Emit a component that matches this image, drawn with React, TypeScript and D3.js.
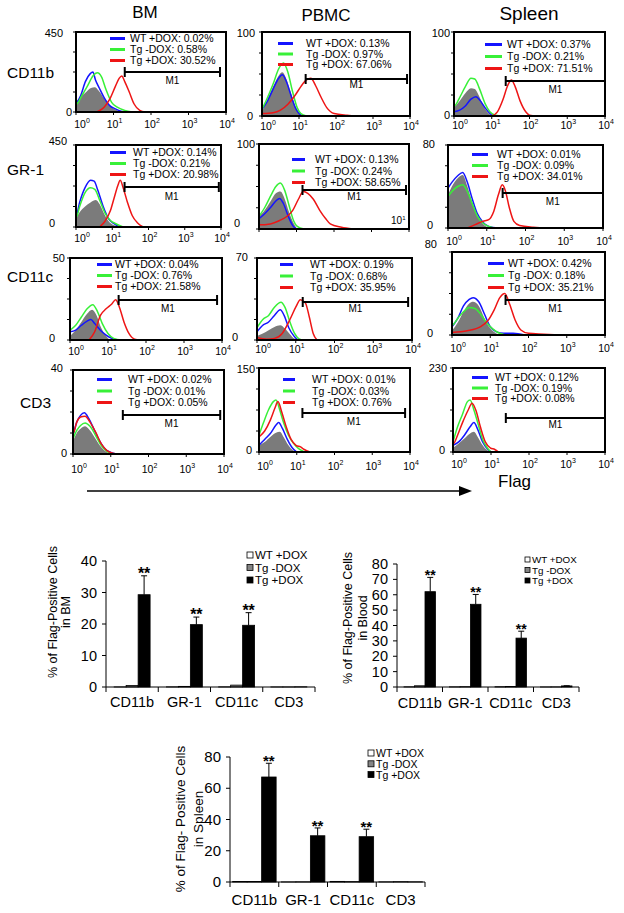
import React from 'react'
import * as d3 from 'd3'

type Pt = [number, number]

const FONT = '"Liberation Sans", Arial, Helvetica, sans-serif'

// ---- flow histogram panels ----
const columns = ['BM', 'PBMC', 'Spleen']
const markers = ['CD11b', 'GR-1', 'CD11c', 'CD3']
const legendNames = ['WT +DOX', 'Tg -DOX', 'Tg +DOX']
const decades = [0, 1, 2, 3, 4]

// y axis max label, row by row (BM, PBMC, Spleen)
const yMaxLabels = ['450', '100', '100', '450', '100', '80', '50', '70', '80', '40', '150', '230']

// % inside M1 for WT +DOX, Tg -DOX, Tg +DOX
const gatePct = [
  ['0.02', '0.58', '30.52'], ['0.13', '0.97', '67.06'], ['0.37', '0.21', '71.51'],
  ['0.14', '0.21', '20.98'], ['0.13', '0.24', '58.65'], ['0.01', '0.09', '34.01'],
  ['0.04', '0.76', '21.58'], ['0.19', '0.68', '35.95'], ['0.42', '0.18', '35.21'],
  ['0.02', '0.01', '0.05'], ['0.01', '0.03', '0.76'], ['0.12', '0.19', '0.08'],
]

// M1 gate, in decades (log10 of Flag)
const gateRange: Pt[] = [
  [1.3, 3.84], [1.18, 3.92], [1.37, 4.0],
  [1.34, 3.94], [1.16, 3.92], [1.41, 4.0],
  [1.28, 3.87], [1.18, 3.9], [1.4, 4.0],
  [1.32, 3.9], [1.15, 3.87], [1.39, 4.0],
]

// traces: [decade, fraction of y max]; order gray, blue, green, red
const histBmCd11b: Pt[][] = [
  [[0, 0.12], [0.1, 0.18], [0.25, 0.24], [0.4, 0.3], [0.5, 0.31], [0.6, 0.27], [0.75, 0.17], [0.9, 0.08], [1.05, 0.03], [1.2, 0]],
  [[0, 0.5], [0.01, 0.12], [0.12, 0.2], [0.25, 0.38], [0.38, 0.48], [0.45, 0.5], [0.52, 0.4], [0.62, 0.3], [0.75, 0.18], [0.9, 0.08], [1.05, 0.04], [1.2, 0.01], [1.35, 0]],
  [[0, 0.5], [0.01, 0.1], [0.15, 0.2], [0.3, 0.32], [0.45, 0.45], [0.57, 0.49], [0.68, 0.44], [0.8, 0.28], [0.95, 0.12], [1.1, 0.06], [1.3, 0.02], [1.5, 0]],
  [[0.55, 0], [0.75, 0.06], [0.9, 0.16], [1.05, 0.32], [1.15, 0.42], [1.22, 0.45], [1.3, 0.38], [1.42, 0.25], [1.55, 0.1], [1.7, 0.02], [1.85, 0]],
]
const histPbmcCd11b: Pt[][] = [
  [[0, 0.05], [0.15, 0.2], [0.3, 0.35], [0.45, 0.48], [0.55, 0.52], [0.65, 0.45], [0.78, 0.28], [0.9, 0.12], [1.0, 0.04], [1.1, 0]],
  [[0, 0.08], [0.15, 0.18], [0.3, 0.32], [0.45, 0.45], [0.55, 0.49], [0.65, 0.42], [0.78, 0.25], [0.9, 0.1], [1.0, 0.03], [1.1, 0]],
  [[0, 0.08], [0.15, 0.22], [0.3, 0.38], [0.45, 0.56], [0.58, 0.63], [0.7, 0.52], [0.82, 0.3], [0.95, 0.1], [1.05, 0.03], [1.2, 0]],
  [[0, 0.03], [0.3, 0.04], [0.5, 0.07], [0.7, 0.14], [0.9, 0.25], [1.05, 0.35], [1.2, 0.43], [1.32, 0.45], [1.45, 0.36], [1.6, 0.22], [1.75, 0.1], [1.95, 0.03], [2.3, 0.01], [2.6, 0]],
]
const histSplCd11b: Pt[][] = [
  [[0, 0.1], [0.15, 0.18], [0.3, 0.27], [0.45, 0.33], [0.55, 0.32], [0.65, 0.25], [0.78, 0.12], [0.9, 0.04], [1.0, 0]],
  [[0, 0.05], [0.15, 0.07], [0.3, 0.12], [0.45, 0.2], [0.58, 0.23], [0.7, 0.18], [0.82, 0.1], [0.95, 0.03], [1.05, 0]],
  [[0, 0.55], [0.01, 0.12], [0.15, 0.22], [0.3, 0.35], [0.45, 0.45], [0.55, 0.44], [0.68, 0.32], [0.82, 0.15], [0.95, 0.05], [1.1, 0.01], [1.3, 0]],
  [[1.0, 0], [1.15, 0.05], [1.3, 0.2], [1.42, 0.36], [1.52, 0.43], [1.62, 0.35], [1.75, 0.18], [1.9, 0.05], [2.0, 0.01], [2.2, 0]],
]
const histBmGr1: Pt[][] = [
  [[0, 0.1], [0.1, 0.18], [0.25, 0.25], [0.4, 0.3], [0.55, 0.33], [0.65, 0.28], [0.78, 0.16], [0.9, 0.07], [1.05, 0.02], [1.2, 0]],
  [[0, 0.55], [0.01, 0.15], [0.1, 0.3], [0.25, 0.48], [0.4, 0.57], [0.5, 0.56], [0.6, 0.45], [0.75, 0.25], [0.9, 0.1], [1.05, 0.04], [1.2, 0]],
  [[0, 0.5], [0.01, 0.12], [0.1, 0.25], [0.25, 0.42], [0.4, 0.48], [0.52, 0.46], [0.65, 0.33], [0.8, 0.17], [0.95, 0.08], [1.1, 0.04], [1.3, 0]],
  [[0.65, 0], [0.8, 0.07], [0.95, 0.2], [1.05, 0.35], [1.15, 0.5], [1.22, 0.57], [1.3, 0.48], [1.42, 0.3], [1.55, 0.14], [1.7, 0.05], [1.85, 0]],
]
const histPbmcGr1: Pt[][] = [
  [[0, 0.15], [0.15, 0.22], [0.3, 0.32], [0.45, 0.42], [0.57, 0.44], [0.68, 0.36], [0.8, 0.2], [0.92, 0.07], [1.02, 0]],
  [[0, 0.12], [0.15, 0.18], [0.3, 0.25], [0.45, 0.33], [0.55, 0.36], [0.65, 0.3], [0.78, 0.15], [0.9, 0.04], [1.0, 0]],
  [[0, 0.15], [0.15, 0.25], [0.3, 0.38], [0.45, 0.5], [0.57, 0.54], [0.68, 0.46], [0.8, 0.28], [0.92, 0.1], [1.02, 0.03], [1.2, 0]],
  [[0, 0.54], [0.01, 0.05], [0.3, 0.06], [0.55, 0.1], [0.75, 0.15], [0.9, 0.22], [1.05, 0.35], [1.18, 0.44], [1.3, 0.42], [1.45, 0.35], [1.62, 0.22], [1.78, 0.12], [1.9, 0.06], [2.2, 0.02], [2.5, 0]],
]
const histSplGr1: Pt[][] = [
  [[0, 0.4], [0.1, 0.5], [0.25, 0.6], [0.38, 0.64], [0.5, 0.5], [0.62, 0.32], [0.75, 0.15], [0.9, 0.05], [1.05, 0]],
  [[0, 0.48], [0.1, 0.55], [0.25, 0.63], [0.38, 0.67], [0.5, 0.55], [0.62, 0.36], [0.75, 0.18], [0.9, 0.07], [1.05, 0.02], [1.3, 0]],
  [[0, 0.38], [0.1, 0.44], [0.25, 0.5], [0.38, 0.52], [0.5, 0.44], [0.62, 0.3], [0.75, 0.15], [0.9, 0.06], [1.05, 0.02], [1.2, 0]],
  [[0.5, 0], [0.7, 0.04], [0.9, 0.08], [1.05, 0.1], [1.18, 0.2], [1.3, 0.4], [1.4, 0.52], [1.48, 0.45], [1.58, 0.25], [1.7, 0.08], [1.85, 0.03], [2.2, 0.01], [2.6, 0]],
]
const histBmCd11c: Pt[][] = [
  [[0, 0.05], [0.15, 0.12], [0.3, 0.22], [0.45, 0.32], [0.58, 0.37], [0.7, 0.3], [0.82, 0.15], [0.95, 0.05], [1.05, 0]],
  [[0, 0.1], [0.15, 0.12], [0.3, 0.18], [0.45, 0.23], [0.55, 0.25], [0.65, 0.2], [0.8, 0.12], [0.95, 0.06], [1.1, 0.02], [1.3, 0]],
  [[0, 0.12], [0.15, 0.18], [0.3, 0.28], [0.45, 0.38], [0.6, 0.43], [0.72, 0.35], [0.85, 0.2], [1.0, 0.08], [1.15, 0.02], [1.35, 0]],
  [[0.5, 0], [0.65, 0.1], [0.8, 0.3], [0.95, 0.38], [1.1, 0.44], [1.2, 0.49], [1.3, 0.4], [1.42, 0.22], [1.55, 0.08], [1.7, 0.01], [1.85, 0]],
]
const histPbmcCd11c: Pt[][] = [
  [[0, 0.05], [0.15, 0.08], [0.3, 0.12], [0.45, 0.16], [0.6, 0.18], [0.72, 0.14], [0.85, 0.07], [0.95, 0.02], [1.05, 0]],
  [[0, 0.1], [0.15, 0.18], [0.3, 0.22], [0.45, 0.3], [0.6, 0.37], [0.7, 0.3], [0.82, 0.15], [0.95, 0.05], [1.05, 0]],
  [[0, 0.15], [0.15, 0.25], [0.3, 0.3], [0.45, 0.4], [0.62, 0.46], [0.72, 0.4], [0.85, 0.22], [0.97, 0.08], [1.1, 0.01], [1.2, 0]],
  [[0, 0.03], [0.25, 0.01], [0.45, 0.02], [0.65, 0.08], [0.85, 0.25], [1.0, 0.4], [1.12, 0.49], [1.25, 0.45], [1.35, 0.28], [1.45, 0.08], [1.55, 0]],
]
const histSplCd11c: Pt[][] = [
  [[0, 0.05], [0.15, 0.15], [0.3, 0.28], [0.45, 0.38], [0.55, 0.4], [0.7, 0.35], [0.85, 0.2], [1.0, 0.08], [1.15, 0.02], [1.3, 0]],
  [[0, 0.1], [0.15, 0.2], [0.3, 0.35], [0.45, 0.43], [0.55, 0.45], [0.7, 0.4], [0.85, 0.25], [1.0, 0.1], [1.15, 0.04], [1.35, 0.02], [1.6, 0.02], [1.9, 0]],
  [[0, 0.45], [0.01, 0.12], [0.15, 0.2], [0.3, 0.28], [0.45, 0.33], [0.6, 0.32], [0.75, 0.25], [0.9, 0.15], [1.05, 0.08], [1.2, 0.03], [1.4, 0]],
  [[0, 0.03], [0.4, 0.05], [0.75, 0.1], [0.95, 0.18], [1.1, 0.3], [1.25, 0.45], [1.38, 0.5], [1.5, 0.38], [1.65, 0.18], [1.8, 0.06], [2.0, 0.02], [2.4, 0.01], [2.8, 0]],
]
const histBmCd3: Pt[][] = [
  [[0, 0.15], [0.1, 0.25], [0.2, 0.3], [0.32, 0.33], [0.45, 0.28], [0.6, 0.18], [0.75, 0.08], [0.9, 0.02], [1.05, 0]],
  [[0, 0.22], [0.1, 0.38], [0.2, 0.46], [0.3, 0.49], [0.42, 0.42], [0.55, 0.3], [0.7, 0.16], [0.85, 0.06], [1.0, 0.02], [1.15, 0]],
  [[0, 0.18], [0.1, 0.28], [0.2, 0.34], [0.32, 0.37], [0.45, 0.33], [0.6, 0.22], [0.75, 0.1], [0.9, 0.03], [1.05, 0]],
  [[0, 1], [0.01, 0.25], [0.1, 0.38], [0.2, 0.44], [0.32, 0.45], [0.45, 0.38], [0.6, 0.26], [0.75, 0.12], [0.9, 0.04], [1.05, 0.01], [1.2, 0]],
]
const histPbmcCd3: Pt[][] = [
  [[0, 0.08], [0.15, 0.12], [0.3, 0.18], [0.45, 0.23], [0.55, 0.24], [0.65, 0.18], [0.78, 0.08], [0.9, 0.02], [1.0, 0]],
  [[0, 0.08], [0.15, 0.15], [0.3, 0.22], [0.45, 0.32], [0.52, 0.35], [0.62, 0.28], [0.75, 0.15], [0.88, 0.05], [1.0, 0]],
  [[0, 0.2], [0.12, 0.35], [0.25, 0.5], [0.38, 0.6], [0.45, 0.62], [0.55, 0.5], [0.65, 0.35], [0.78, 0.2], [0.92, 0.1], [1.05, 0.04], [1.2, 0]],
  [[0, 0.18], [0.15, 0.25], [0.3, 0.38], [0.42, 0.52], [0.5, 0.6], [0.6, 0.48], [0.72, 0.3], [0.85, 0.15], [0.98, 0.08], [1.1, 0.06], [1.2, 0.03], [1.35, 0]],
]
const histSplCd3: Pt[][] = [
  [[0, 0.05], [0.15, 0.1], [0.3, 0.16], [0.45, 0.22], [0.55, 0.24], [0.65, 0.18], [0.78, 0.08], [0.9, 0.02], [1.0, 0]],
  [[0, 0.08], [0.15, 0.12], [0.3, 0.2], [0.45, 0.3], [0.55, 0.35], [0.65, 0.27], [0.78, 0.12], [0.9, 0.04], [1.0, 0]],
  [[0, 0.12], [0.12, 0.3], [0.25, 0.45], [0.38, 0.6], [0.45, 0.62], [0.55, 0.5], [0.65, 0.35], [0.78, 0.15], [0.9, 0.05], [1.0, 0]],
  [[0, 0.58], [0.01, 0.1], [0.12, 0.2], [0.25, 0.35], [0.4, 0.5], [0.5, 0.58], [0.6, 0.5], [0.72, 0.3], [0.85, 0.12], [0.98, 0.05], [1.1, 0.03], [1.2, 0]],
]

const histograms = [
  histBmCd11b, histPbmcCd11b, histSplCd11b,
  histBmGr1, histPbmcGr1, histSplGr1,
  histBmCd11c, histPbmcCd11c, histSplCd11c,
  histBmCd3, histPbmcCd3, histSplCd3,
]

const traceColors = ['#7b7b7b', '#1414ff', '#38f038', '#ee1515']

// panel placement (pixels) – layout only
// box [l,t,r,b], legend [lineX1,lineX2,textX,baseline0,gap], gateY, gateTextY,
// ymax label [rightX, baseline], zero label [rightX, baseline], x label baseline (0 = none)
const panelLayout = [
  { box: [76, 32, 226, 112], leg: [110, 125, 130, 42, 11], gy: 72, gty: 84, ym: [63, 37], y0: [72, 116], xl: 128 },
  { box: [262, 32, 410, 116], leg: [278, 293, 306, 47, 10.5], gy: 79, gty: 88, ym: [255, 37], y0: [253, 120], xl: 130 },
  { box: [454, 32, 605, 116], leg: [485, 502, 507, 48, 12], gy: 81, gty: 93, ym: [450, 37], y0: [450, 119], xl: 129 },
  { box: [76, 145, 221, 227], leg: [110, 126, 133, 156, 11], gy: 187, gty: 200, ym: [67, 145], y0: [55, 227], xl: 242 },
  { box: [259, 144, 409, 229], leg: [292, 305, 315, 163, 11.5], gy: 190, gty: 200, ym: [255, 148], y0: [240, 227], xl: 0 },
  { box: [448, 145, 603, 228], leg: [472, 488, 497, 158, 11], gy: 193, gty: 205, ym: [435, 148], y0: [433, 229], xl: 245 },
  { box: [70, 258, 222, 340], leg: [97, 112, 115, 268, 11], gy: 300, gty: 312, ym: [65, 262], y0: [55, 342], xl: 355 },
  { box: [257, 258, 412, 340], leg: [280, 293, 310, 268, 11.5], gy: 302, gty: 312, ym: [248, 261], y0: [238, 341], xl: 353 },
  { box: [452, 252, 605, 335], leg: [488, 504, 508, 267, 12], gy: 300, gty: 312, ym: [437, 248], y0: [433, 337], xl: 352 },
  { box: [73, 370, 224, 454], leg: [97, 112, 128, 383, 11.5], gy: 415, gty: 427, ym: [63, 372], y0: [67, 457], xl: 473 },
  { box: [259, 368, 410, 452], leg: [283, 295, 312, 383, 11.5], gy: 413, gty: 425, ym: [255, 373], y0: [252, 454], xl: 470 },
  { box: [453, 368, 605, 452], leg: [472, 488, 495, 381, 10.5], gy: 418, gty: 428, ym: [447, 372], y0: [445, 454], xl: 468 },
]

// ---- bar charts ----
const barCategories = ['CD11b', 'GR-1', 'CD11c', 'CD3']
const barSeries = ['WT +DOX', 'Tg -DOX', 'Tg +DOX']
const barFills = ['#ffffff', '#858585', '#000000']

const bmWT = [0.03, 0.05, 0.05, 0.02]
const bmTgNoDox = [0.5, 0.2, 0.6, 0.02]
const bmTgDox = [29.3, 19.8, 19.6, 0.05]
const bmTgDoxErr = [6, 2.4, 4, 0]
const bmStars = [true, true, true, false]

const bloodWT = [0.13, 0.1, 0.2, 0.02]
const bloodTgNoDox = [0.8, 0.2, 0.3, 0.05]
const bloodTgDox = [62, 53.8, 31.8, 0.7]
const bloodTgDoxErr = [9.3, 6.4, 4.5, 0.1]
const bloodStars = [true, true, true, false]

const spleenWT = [0.35, 0.05, 0.4, 0.1]
const spleenTgNoDox = [0.3, 0.1, 0.25, 0.2]
const spleenTgDox = [67.2, 29.6, 29.0, 0.08]
const spleenTgDoxErr = [8.8, 5, 4.8, 0]
const spleenStars = [true, true, true, false]

const barCharts = [
  {
    series: [bmWT, bmTgNoDox, bmTgDox], err: bmTgDoxErr, stars: bmStars, max: 40, step: 10,
    x: [106, 315], y: [561, 687], pad: 0.68, label: ['% of Flag-Positive Cells', 'in BM'], labX: [57, 70], labY: 612, labSize: 12.5,
    tick: 14.5, catY: 707, leg: [247, 559, 12.5, 11.5, 6], star: 16,
  },
  {
    series: [bloodWT, bloodTgNoDox, bloodTgDox], err: bloodTgDoxErr, stars: bloodStars, max: 80, step: 10,
    x: [397, 579], y: [564, 687], pad: 0.67, label: ['% of Flag-Positive Cells', 'in Blood'], labX: [352, 367], labY: 618, labSize: 12.5,
    tick: 14.5, catY: 708, leg: [525, 563, 10.5, 9.8, 5], star: 14,
  },
  {
    series: [spleenWT, spleenTgNoDox, spleenTgDox], err: spleenTgDoxErr, stars: spleenStars, max: 80, step: 20,
    x: [230, 425], y: [757, 882], pad: 0.18, label: ['% of Flag- Positive Cells', 'in Spleen'], labX: [185, 203], labY: 819, labSize: 13.5,
    tick: 15, catY: 905, leg: [368, 757, 10.8, 10.5, 6], star: 15,
  },
]

function Histogram({ i }: { i: number }) {
  const L = panelLayout[i]
  const [l, t, r, b] = L.box
  const x = d3.scaleLog().domain([1, 1e4]).range([l, r])
  const y = d3.scaleLinear().domain([0, 1]).range([b, t])
  const px = (p: Pt) => x(Math.pow(10, p[0]))
  const line = d3.line<Pt>().x(px).y(p => y(p[1])).curve(d3.curveMonotoneX)
  const area = d3.area<Pt>().x(px).y0(b).y1(p => y(p[1])).curve(d3.curveMonotoneX)
  const tr = histograms[i]
  const [lx1, lx2, tx, ly0, gap] = L.leg
  const g0 = x(Math.pow(10, gateRange[i][0]))
  const g1 = x(Math.pow(10, gateRange[i][1]))
  const clipId = `clip${i}`
  return (
    <g>
      <clipPath id={clipId}>
        <rect x={l} y={t - 2} width={r - l} height={b - t + 2} />
      </clipPath>
      <g clipPath={`url(#${clipId})`}>
        <path d={area(tr[0]) || ''} fill={traceColors[0]} />
        {[1, 2, 3].map(k => (
          <path key={k} d={line(tr[k]) || ''} fill="none" stroke={traceColors[k]} strokeWidth={1.5} />
        ))}
      </g>
      <rect x={l} y={t} width={r - l} height={b - t} fill="none" stroke="#000" strokeWidth={2} />
      {[0, 0.25, 0.5, 0.75, 1].map(f => (
        <line key={f} x1={l - 3} x2={l} y1={y(f)} y2={y(f)} stroke="#000" strokeWidth={1} />
      ))}
      {decades.map(d => (
        <line key={d} x1={x(Math.pow(10, d))} x2={x(Math.pow(10, d))} y1={b} y2={b + 3} stroke="#000" strokeWidth={1} />
      ))}
      <text x={L.ym[0]} y={L.ym[1]} fontSize={11} textAnchor="end">{yMaxLabels[i]}</text>
      <text x={L.y0[0]} y={L.y0[1]} fontSize={11} textAnchor="end">0</text>
      {L.xl > 0 && decades.map(d => (
        <text key={d} x={x(Math.pow(10, d)) + (d === 0 ? 6 : 1)} y={L.xl} fontSize={10.5} textAnchor="middle">
          10<tspan fontSize={7} dy={-5}>{d}</tspan>
        </text>
      ))}
      {legendNames.map((n, k) => (
        <g key={n}>
          <line x1={lx1} x2={lx2} y1={ly0 + k * gap - 3.5} y2={ly0 + k * gap - 3.5} stroke={traceColors[k + 1]} strokeWidth={3} />
          <text x={tx} y={ly0 + k * gap} fontSize={10.5}>{`${n}: ${gatePct[i][k]}%`}</text>
        </g>
      ))}
      <line x1={g0} x2={g1} y1={L.gy} y2={L.gy} stroke="#000" strokeWidth={2} />
      <line x1={g0} x2={g0} y1={L.gy - 5} y2={L.gy + 5} stroke="#000" strokeWidth={2} />
      <line x1={g1} x2={g1} y1={L.gy - 5} y2={L.gy + 5} stroke="#000" strokeWidth={2} />
      <text x={(g0 + g1) / 2} y={L.gty} fontSize={10} textAnchor="middle">M1</text>
    </g>
  )
}

function BarChart({ c }: { c: typeof barCharts[number] }) {
  const x0 = d3.scaleBand<string>().domain(barCategories).range([c.x[0], c.x[1]])
  const x1 = d3.scaleBand<string>().domain(barSeries).range([0, x0.bandwidth()]).paddingInner(0).paddingOuter(c.pad)
  const y = d3.scaleLinear().domain([0, c.max]).range([c.y[1], c.y[0]])
  const ticks = d3.range(0, c.max + 0.001, c.step)
  const bounds = [...barCategories.map(k => x0(k) as number), c.x[1]]
  const [lx, ly, lg, ls, sq] = c.leg
  return (
    <g>
      {barCategories.map((cat, ci) => (
        <g key={cat}>
          {barSeries.map((s, si) => {
            const v = c.series[si][ci]
            return (
              <rect key={s} x={(x0(cat) as number) + (x1(s) as number)} y={y(v)} width={x1.bandwidth()}
                height={y(0) - y(v)} fill={barFills[si]} stroke="#000" strokeWidth={0.8} />
            )
          })}
          {c.err[ci] > 0 && (() => {
            const cx = (x0(cat) as number) + (x1('Tg +DOX') as number) + x1.bandwidth() / 2
            const top = y(c.series[2][ci] + c.err[ci])
            return (
              <g>
                <line x1={cx} x2={cx} y1={y(c.series[2][ci])} y2={top} stroke="#000" strokeWidth={1} />
                <line x1={cx - 3} x2={cx + 3} y1={top} y2={top} stroke="#000" strokeWidth={1} />
                {c.stars[ci] && (
                  <text x={cx} y={top + 3} fontSize={c.star} fontWeight="bold" textAnchor="middle">**</text>
                )}
              </g>
            )
          })()}
          <text x={(x0(cat) as number) + x0.bandwidth() / 2} y={c.catY} fontSize={c.tick} textAnchor="middle">{cat}</text>
        </g>
      ))}
      <line x1={c.x[0]} x2={c.x[0]} y1={c.y[0]} y2={c.y[1]} stroke="#000" strokeWidth={1} />
      <line x1={c.x[0]} x2={c.x[1]} y1={c.y[1]} y2={c.y[1]} stroke="#000" strokeWidth={1} />
      {bounds.map((bx, k) => (
        <line key={k} x1={bx} x2={bx} y1={c.y[1]} y2={c.y[1] + 5} stroke="#000" strokeWidth={1} />
      ))}
      {ticks.map(tv => (
        <g key={tv}>
          <line x1={c.x[0] - 4} x2={c.x[0]} y1={y(tv)} y2={y(tv)} stroke="#000" strokeWidth={1} />
          <text x={c.x[0] - 9} y={y(tv) + 5} fontSize={c.tick} textAnchor="end">{tv}</text>
        </g>
      ))}
      {c.label.map((s, k) => (
        <text key={k} transform={`translate(${c.labX[k]},${c.labY}) rotate(-90)`} fontSize={c.labSize} textAnchor="middle">{s}</text>
      ))}
      {barSeries.map((s, k) => (
        <g key={s}>
          <rect x={lx} y={ly + k * lg - sq - 1} width={sq} height={sq} fill={barFills[k]} stroke="#000" strokeWidth={0.8} />
          <text x={lx + sq + 2} y={ly + k * lg} fontSize={ls}>{s}</text>
        </g>
      ))}
    </g>
  )
}

export default function App() {
  const headerX = [145, 326, 529]
  const headerY = [18, 21, 20]
  const headerSize = [17, 17, 19]
  const rowX = [7, 7, 7, 20]
  const rowY = [78, 175, 282, 408]
  return (
    <svg width={624} height={913} style={{ position: 'absolute', left: 0, top: 0, background: '#fff' }} fontFamily={FONT}>
      <rect x={0} y={0} width={624} height={913} fill="#fff" />
      {columns.map((c, i) => (
        <text key={c} x={headerX[i]} y={headerY[i]} fontSize={headerSize[i]} textAnchor="middle">{c}</text>
      ))}
      {markers.map((m, i) => (
        <text key={m} x={rowX[i]} y={rowY[i]} fontSize={15.5}>{m}</text>
      ))}
      {histograms.map((_, i) => <Histogram key={i} i={i} />)}
      <text x={391} y={224} fontSize={10}>10<tspan fontSize={6} dy={-4}>1</tspan></text>
      <line x1={87} x2={462} y1={491} y2={491} stroke="#000" strokeWidth={1.5} />
      <path d="M459,486 L472,491 L459,496 Z" fill="#000" />
      <text x={498} y={487} fontSize={17}>Flag</text>
      {barCharts.map((c, i) => <BarChart key={i} c={c} />)}
    </svg>
  )
}
